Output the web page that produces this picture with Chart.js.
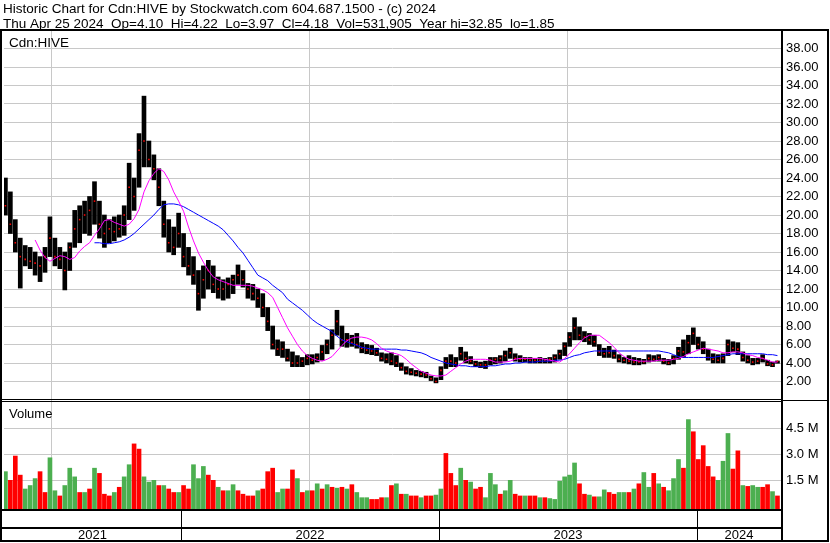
<!DOCTYPE html>
<html><head><meta charset="utf-8">
<script src="https://cdn.jsdelivr.net/npm/chart.js@4/dist/chart.umd.min.js"></script>
<style>html,body{margin:0;padding:0;background:#fff}canvas{display:block}</style>
</head><body>
<canvas id="c" width="830" height="543"></canvas>
<script>
// Weekly samples (Wednesday of each trading week)
const weeks = ['2021-04-28','2021-05-05','2021-05-12','2021-05-19','2021-05-26','2021-06-02','2021-06-09','2021-06-16','2021-06-23','2021-06-30','2021-07-07','2021-07-14','2021-07-21','2021-07-28','2021-08-04','2021-08-11','2021-08-18','2021-08-25','2021-09-01','2021-09-08','2021-09-15','2021-09-22','2021-09-29','2021-10-06','2021-10-13','2021-10-20','2021-10-27','2021-11-03','2021-11-10','2021-11-17','2021-11-24','2021-12-01','2021-12-08','2021-12-15','2021-12-22','2021-12-29',
'2022-01-05','2022-01-12','2022-01-19','2022-01-26','2022-02-02','2022-02-09','2022-02-16','2022-02-23','2022-03-02','2022-03-09','2022-03-16','2022-03-23','2022-03-30','2022-04-06','2022-04-13','2022-04-20','2022-04-27','2022-05-04','2022-05-11','2022-05-18','2022-05-25','2022-06-01','2022-06-08','2022-06-15','2022-06-22','2022-06-29','2022-07-06','2022-07-13','2022-07-20','2022-07-27','2022-08-03','2022-08-10','2022-08-17','2022-08-24','2022-08-31','2022-09-07','2022-09-14','2022-09-21','2022-09-28','2022-10-05','2022-10-12','2022-10-19','2022-10-26','2022-11-02','2022-11-09','2022-11-16','2022-11-23','2022-11-30','2022-12-07','2022-12-14','2022-12-21','2022-12-28',
'2023-01-04','2023-01-11','2023-01-18','2023-01-25','2023-02-01','2023-02-08','2023-02-15','2023-02-22','2023-03-01','2023-03-08','2023-03-15','2023-03-22','2023-03-29','2023-04-05','2023-04-12','2023-04-19','2023-04-26','2023-05-03','2023-05-10','2023-05-17','2023-05-24','2023-05-31','2023-06-07','2023-06-14','2023-06-21','2023-06-28','2023-07-05','2023-07-12','2023-07-19','2023-07-26','2023-08-02','2023-08-09','2023-08-16','2023-08-23','2023-08-30','2023-09-06','2023-09-13','2023-09-20','2023-09-27','2023-10-04','2023-10-11','2023-10-18','2023-10-25','2023-11-01','2023-11-08','2023-11-15','2023-11-22','2023-11-29','2023-12-06','2023-12-13','2023-12-20','2023-12-27',
'2024-01-03','2024-01-10','2024-01-17','2024-01-24','2024-01-31','2024-02-07','2024-02-14','2024-02-21','2024-02-28','2024-03-06','2024-03-13','2024-03-20','2024-03-27','2024-04-03','2024-04-10','2024-04-17','2024-04-24'];

const highs = [24.0,22.5,19.5,17.5,16.7,16.5,16.0,15.5,16.5,19.8,
17.5,16.5,16.0,17.0,20.5,21.0,21.5,22.0,23.6,21.5,
20.0,19.5,19.8,20.0,21.0,25.6,24.0,28.8,32.85,28.0,
26.5,25.0,21.5,19.5,18.7,20.2,18.0,16.5,15.5,14.0,
14.5,15.1,14.5,13.3,13.0,13.2,13.5,14.6,14.0,12.6,
12.5,12.0,11.5,10.0,8.0,6.5,6.3,5.5,5.2,4.8,
4.6,4.9,4.9,5.0,5.9,6.5,7.6,9.7,8.0,7.2,
7.0,7.2,6.2,6.0,5.9,5.6,5.1,5.0,5.1,4.8,
4.0,3.6,3.4,3.2,3.1,3.0,2.6,2.4,3.6,4.6,
4.9,4.6,5.7,5.2,4.7,4.2,4.1,4.2,4.6,4.6,
4.8,5.3,5.6,5.0,4.8,4.6,4.6,4.5,4.6,4.5,
4.6,4.9,5.4,6.2,7.3,8.9,7.9,7.4,7.2,7.0,
6.0,5.6,5.8,5.4,4.9,4.6,4.8,4.6,4.5,4.4,
4.9,4.8,4.9,4.5,4.4,4.8,5.7,6.5,7.0,7.8,
6.8,6.3,5.5,5.0,4.9,5.0,6.5,6.3,6.2,5.2,
4.8,4.5,4.5,4.9,4.3,4.1,4.22];

const lows = [20.0,18.0,16.0,12.1,14.5,14.2,13.5,12.8,13.8,15.5,
14.5,14.2,11.9,14.0,16.5,17.0,18.0,17.8,19.0,17.5,
16.5,17.0,17.2,17.6,17.8,19.5,20.5,23.0,25.2,25.2,
23.8,21.0,17.6,16.0,15.7,16.5,14.4,13.5,12.5,9.7,
11.0,12.0,11.6,11.0,10.8,11.0,11.5,12.5,12.2,11.0,
10.8,10.0,9.0,7.5,5.5,4.8,4.6,4.2,3.6,3.6,
3.6,3.8,3.9,4.1,4.3,5.0,5.5,7.0,5.8,5.7,
5.8,5.6,5.1,5.0,4.9,4.8,4.2,4.0,3.8,3.6,
3.2,2.8,2.7,2.6,2.5,2.4,2.1,1.85,2.2,3.4,
3.6,3.6,4.3,4.0,3.9,3.6,3.5,3.4,3.8,3.9,
4.0,4.2,4.5,4.2,4.1,4.1,4.0,4.0,4.0,4.0,
4.0,4.1,4.4,4.8,5.8,6.5,6.5,6.3,6.0,5.8,
4.8,4.6,4.6,4.5,4.1,4.0,3.9,3.8,3.8,3.9,
4.1,4.2,4.2,3.9,3.8,3.9,4.4,4.6,5.0,6.0,
5.5,5.0,4.3,4.0,4.0,4.0,4.8,5.2,4.9,4.2,
4.0,3.8,3.9,4.1,3.7,3.6,3.97];

const closes = [21,19,17,15.5,15.2,15,14.8,14.5,15.5,17.5,
15.5,15.2,14,16.5,18.5,19.5,20,20.5,21.5,19,
18,18.5,18.2,18.5,20,23,22,27,28,26,
25,23,19,17,16.5,18,15.5,14.5,13.5,11.5,
13,14,12.5,12,12,12.5,13,13.5,13,12,
11.5,11,10,8.5,6,5.5,5.5,4.5,4,4,
4.2,4.5,4.3,4.6,5.2,6,7,8.5,6.5,6.5,
6.2,6,5.6,5.4,5.3,5.1,4.5,4.4,4.2,4.0,
3.5,3.1,3.0,2.9,2.8,2.7,2.3,2.0,3.2,4.2,
4.2,4.0,5.0,4.5,4.2,3.9,3.8,3.8,4.3,4.4,
4.5,4.8,5.1,4.5,4.4,4.4,4.3,4.3,4.3,4.3,
4.4,4.6,5.0,5.8,6.8,7.8,7.0,6.8,6.5,6.3,
5.2,5.0,5.1,4.8,4.4,4.3,4.2,4.1,4.1,4.1,
4.5,4.4,4.6,4.2,4.0,4.5,5.3,5.2,6.2,7.2,
6.0,5.5,4.6,4.4,4.3,4.5,6.0,5.6,5.5,4.6,
4.3,4.1,4.2,4.5,3.9,3.8,4.18];

// short moving average (magenta)
const maShort = [null,null,null,null,null,null,17.3,16.2,15.4,15.0,
15.3,15.6,15.5,15.2,15.4,16.1,16.6,17.0,17.8,18.5,
19.4,19.5,19.2,19.0,18.8,19.0,19.6,20.6,22.5,23.7,
24.5,25.0,24.7,23.8,22.5,21.5,20.4,18.7,17.2,15.9,
14.9,14.0,13.3,13.0,12.8,12.6,12.4,12.4,12.4,12.4,
12.3,12.1,11.9,11.6,11.1,10.0,8.9,7.8,6.9,6.0,
5.3,4.8,4.5,4.3,4.2,4.4,4.7,5.3,5.9,6.4,
6.7,6.8,6.8,6.7,6.5,6.1,5.6,5.3,5.1,5.0,
4.8,4.4,3.9,3.5,3.1,2.9,2.7,2.6,2.6,2.7,
3.1,3.5,3.9,4.2,4.4,4.4,4.4,4.4,4.3,4.1,
4.1,4.1,4.2,4.4,4.5,4.5,4.5,4.5,4.5,4.4,
4.3,4.2,4.1,4.5,5.0,5.6,6.2,6.7,7.0,7.0,
7.0,6.6,6.2,5.7,5.1,4.7,4.4,4.3,4.2,4.2,
4.2,4.2,4.3,4.3,4.3,4.4,4.5,4.7,5.0,5.2,
5.4,5.6,5.5,5.4,5.3,5.1,5.1,5.2,5.2,5.1,
4.9,4.8,4.6,4.5,4.3,4.1,4.1];

// long moving average (blue)
const maLong = [null,null,null,null,null,null,null,null,null,null,
null,null,null,null,null,null,null,null,17.0,17.0,
16.9,16.9,17.0,17.1,17.3,17.6,18.0,18.5,19.0,19.5,
20.0,20.6,21.1,21.2,21.2,21.1,20.9,20.6,20.3,20.0,
19.7,19.4,19.1,18.8,18.4,17.8,17.2,16.5,15.9,15.1,
14.3,13.5,13.2,12.9,12.4,12.0,11.6,10.9,10.5,10.1,
9.7,9.2,8.7,8.3,8.0,7.7,7.4,6.9,6.5,6.3,
6.1,5.9,5.7,5.6,5.5,5.5,5.5,5.5,5.5,5.5,
5.4,5.4,5.3,5.2,5.1,4.9,4.6,4.4,4.2,4.0,
3.9,3.8,3.7,3.7,3.6,3.6,3.6,3.6,3.7,3.7,
3.8,3.9,3.9,4.0,4.0,4.1,4.1,4.1,4.2,4.2,
4.2,4.3,4.3,4.4,4.6,4.8,4.9,5.1,5.2,5.3,
5.3,5.3,5.3,5.3,5.3,5.3,5.3,5.3,5.3,5.3,
5.3,5.3,5.3,5.2,5.1,4.9,4.7,4.6,4.6,4.6,
4.6,4.6,4.6,4.6,4.7,4.8,4.9,5.0,5.0,5.0,
5.0,5.0,5.0,5.0,4.9,4.9,4.8];

// volume, millions of shares
const volumes = [2.0,1.5,2.9,1.8,1.0,1.2,1.6,2.0,0.8,2.8,
0.9,0.6,1.2,2.2,1.7,0.8,0.8,1.0,2.2,1.9,
0.7,0.6,0.8,1.1,1.7,2.4,3.6,3.3,1.7,1.4,
1.5,1.2,1.2,1.0,0.8,0.8,1.2,1.0,2.4,1.6,
2.3,1.8,1.5,1.1,0.9,0.9,1.25,0.9,0.7,0.6,
0.6,0.9,1.0,2.0,2.2,0.8,1.0,1.0,2.1,1.6,
0.8,0.9,0.9,1.3,1.0,1.25,1.1,1.05,1.1,1.0,
1.25,0.8,0.5,0.5,0.4,0.4,0.5,0.5,1.2,1.3,
0.7,0.7,0.6,0.6,0.5,0.6,0.6,0.65,1.0,3.05,
1.9,1.2,2.2,1.5,1.4,1.0,1.1,0.5,1.9,1.25,
0.7,0.9,1.5,0.7,0.6,0.6,0.6,0.6,0.5,0.5,
0.45,0.4,1.45,1.7,1.8,2.5,1.3,0.7,0.65,0.55,
0.55,0.95,0.8,0.7,0.8,0.8,0.8,1.0,1.3,1.95,
1.1,1.9,1.3,1.1,0.9,1.6,2.7,2.2,5.0,4.3,
2.7,3.5,2.3,1.7,1.5,2.6,4.2,2.15,3.2,1.2,
1.15,1.2,1.1,1.1,1.25,0.85,0.6];

// 1 = up week (green), 0 = down week (red)
const volUp = [1,0,0,0,1,1,1,0,0,1, 1,0,1,1,1,0,1,0,1,0, 0,0,1,0,1,1,0,0,1,1,
1,0,1,0,0,1,0,0,1,1, 1,0,0,1,0,1,1,0,0,0, 0,1,0,0,0,1,1,0,0,1,
0,1,0,1,0,1,0,1,0,1, 0,1,1,1,0,0,0,1,0,1, 0,1,0,0,1,0,0,1,1,0,
0,0,1,0,1,0,0,1,1,1, 0,1,1,0,0,1,0,0,1,0, 1,1,1,1,1,1,0,0,1,0,
1,1,0,0,1,1,0,1,0,1, 1,0,1,0,1,1,1,0,1,0, 0,0,0,0,1,1,1,0,0,1,
0,1,1,0,0,1,0];

const priceTicks = [2,4,6,8,10,12,14,16,18,20,22,24,26,28,30,32,34,36,38];
const volumeTicks = [1.5,3.0,4.5];
const yearBounds = ['2022-01-01','2023-01-01','2024-01-01'];
const yearLabels = ['2021','2022','2023','2024'];
const titleLine1 = 'Historic Chart for Cdn:HIVE by Stockwatch.com 604.687.1500 - (c) 2024';
const titleLine2 = 'Thu Apr 25 2024  Op=4.10  Hi=4.22  Lo=3.97  Cl=4.18  Vol=531,905  Year hi=32.85  lo=1.85';

const T = s => Date.parse(s + 'T00:00:00Z');
const xs = weeks.map(T);
const VMIN = -0.21, VMAX = 6.13;
const FONT = '"Liberation Sans", Arial, sans-serif';

Chart.defaults.font.family = FONT;
Chart.defaults.font.size = 13;
Chart.defaults.color = '#000';

const frame = {
  id: 'frame',
  afterDraw(chart) {
    const ctx = chart.ctx, sx = chart.scales.x;
    ctx.save();
    ctx.fillStyle = '#000';
    ctx.fillRect(0, 29, 829, 2);
    ctx.fillRect(0, 29, 2, 513);
    ctx.fillRect(781, 29, 2, 513);
    ctx.fillRect(827, 29, 2, 513);
    ctx.fillRect(0, 540, 829, 2);
    ctx.fillRect(0, 399, 781, 1);
    ctx.fillRect(0, 401, 781, 1);
    ctx.fillRect(783, 400, 44, 1);
    ctx.fillRect(0, 509, 781, 2);
    ctx.fillRect(0, 527, 781, 2);
    const bpx = yearBounds.map(b => Math.round(sx.getPixelForValue(T(b))));
    bpx.forEach(p => ctx.fillRect(p, 511, 1, 29));
    const edges = [sx.left, ...bpx, sx.right];
    ctx.font = '13px ' + FONT;
    ctx.textAlign = 'center';
    ctx.textBaseline = 'alphabetic';
    yearLabels.forEach((lab, i) => ctx.fillText(lab, (edges[i] + edges[i + 1]) / 2, 539));
    ctx.textAlign = 'left';
    ctx.font = '13.5px ' + FONT;
    ctx.fillText(titleLine1, 3, 13);
    ctx.fillText(titleLine2, 3, 28);
    ctx.fillText('Cdn:HIVE', 9, 47);
    ctx.font = '13px ' + FONT;
    ctx.fillText('Volume', 9, 418);
    ctx.restore();
  }
};

const pts = arr => xs.map((x, i) => ({x, y: arr[i]}));

new Chart(document.getElementById('c'), {
  type: 'bar',
  data: {
    datasets: [
      {type: 'line', label: 'MA short', data: pts(maShort), yAxisID: 'y', borderColor: '#ff00ff', borderWidth: 1, pointRadius: 0, order: 0},
      {type: 'line', label: 'MA long', data: pts(maLong), yAxisID: 'y', borderColor: '#0000ff', borderWidth: 1, pointRadius: 0, order: 1},
      {type: 'line', label: 'Close', data: pts(closes), yAxisID: 'y', showLine: false, pointStyle: 'rect', pointRadius: 1.1, pointBorderWidth: 0, pointBackgroundColor: '#ff0000', order: 2},
      {label: 'Range', data: xs.map((x, i) => ({x, y: [lows[i], highs[i]]})), yAxisID: 'y', backgroundColor: '#000', borderWidth: 0, barThickness: 4, grouped: false, order: 3},
      {label: 'Volume', data: pts(volumes), yAxisID: 'yv', base: VMIN, backgroundColor: volUp.map(u => u ? '#4caf50' : '#ff0000'), borderWidth: 0, barThickness: 4, grouped: false, order: 4}
    ]
  },
  options: {
    responsive: false,
    animation: false,
    events: [],
    layout: {padding: {top: 30, left: 2, right: 0, bottom: 0}},
    plugins: {legend: {display: false}, tooltip: {enabled: false}},
    scales: {
      x: {
        type: 'linear', position: 'bottom', offset: false,
        min: Date.UTC(2021, 3, 26), max: Date.UTC(2024, 3, 29),
        afterBuildTicks: s => { s.ticks = yearBounds.map(b => ({value: T(b)})); },
        afterFit: s => { s.height = 33; },
        ticks: {display: false},
        grid: {color: '#c8c8c8', drawTicks: false},
        border: {display: false}
      },
      y: {
        type: 'linear', position: 'right', stack: 'p', stackWeight: 370,
        min: 0, max: 40,
        afterBuildTicks: s => { s.ticks = priceTicks.map(v => ({value: v})); },
        afterFit: s => { s.width = 49; },
        ticks: {padding: 5, autoSkip: false, callback: v => Number(v).toFixed(2), font: {size: 13}},
        grid: {color: '#c8c8c8', drawTicks: false},
        border: {display: false}
      },
      yv: {
        type: 'linear', position: 'right', stack: 'p', stackWeight: 110,
        min: VMIN, max: VMAX,
        afterBuildTicks: s => { s.ticks = volumeTicks.map(v => ({value: v})); },
        afterFit: s => { s.width = 49; },
        ticks: {padding: 5, autoSkip: false, callback: v => Number(v).toFixed(1) + ' M', font: {size: 13}},
        grid: {color: '#c8c8c8', drawTicks: false},
        border: {display: false}
      }
    }
  },
  plugins: [frame]
});
</script>
</body></html>
